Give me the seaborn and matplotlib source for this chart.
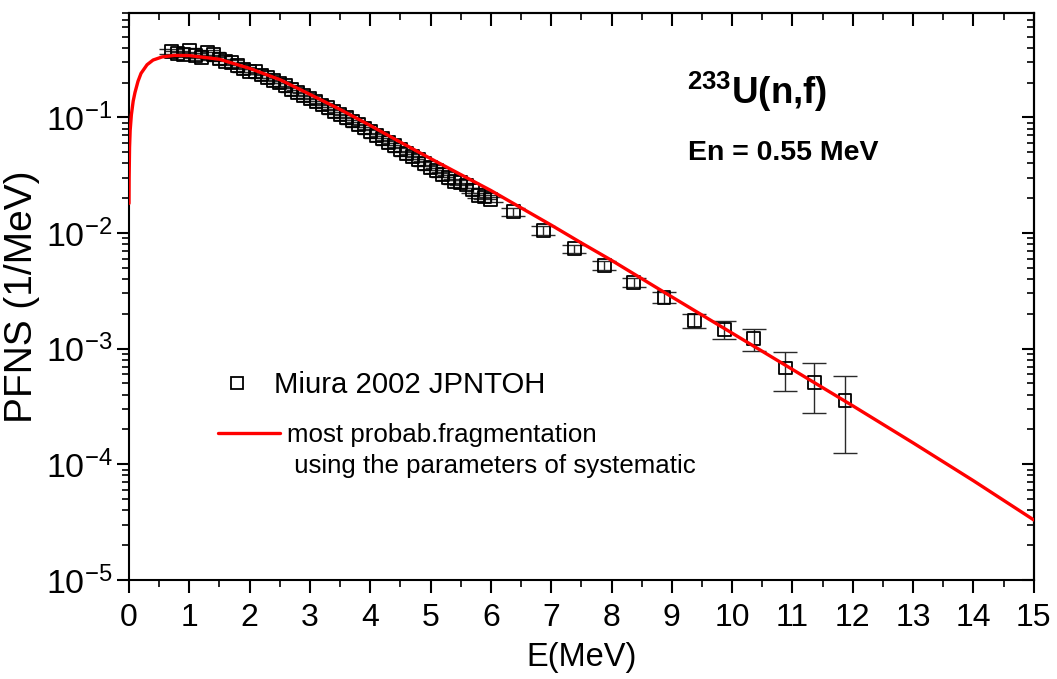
import numpy as np
import pandas as pd
import matplotlib
matplotlib.use('Agg')
import matplotlib.pyplot as plt
import seaborn as sns
from matplotlib import ticker
from matplotlib.lines import Line2D

# model curve: most probable fragmentation
model_e = [0.001, 0.003, 0.01, 0.02, 0.04, 0.07, 0.1, 0.15, 0.2, 0.3, 0.4, 0.55, 0.75,
           1.0, 1.5, 2.0, 2.5, 3.0, 3.5, 4.0, 4.5, 5.0, 5.5, 6.0, 6.5, 7.0, 7.5, 8.0,
           9.0, 10.0, 11.0, 12.0, 13.0, 14.0, 15.0]
model_pfns = [0.018, 0.030, 0.055, 0.077, 0.105, 0.138, 0.164, 0.205, 0.240, 0.285, 0.313, 0.333, 0.343,
              0.342, 0.318, 0.265, 0.212, 0.158, 0.117, 0.085, 0.061, 0.044, 0.032, 0.0233, 0.0165, 0.0117, 0.0082, 0.0058,
              0.0028, 0.00136, 0.00066, 0.00032, 0.000153, 0.000072, 0.000033]

# Miura 2002 JPNTOH data points
miura_e = [0.7, 0.8, 0.9, 1.0, 1.1, 1.2, 1.3, 1.4, 1.5, 1.6, 1.7, 1.8, 1.9, 2.0,
           2.1, 2.2, 2.3, 2.4, 2.5, 2.6, 2.7, 2.8, 2.9, 3.0, 3.1, 3.2, 3.3, 3.4,
           3.5, 3.6, 3.7, 3.8, 3.9, 4.0, 4.1, 4.2, 4.3, 4.4, 4.5, 4.6, 4.7, 4.8,
           4.9, 5.0, 5.1, 5.2, 5.3, 5.4, 5.5, 5.6, 5.7, 5.8, 5.9, 6.0,
           6.37, 6.87, 7.38, 7.88, 8.37, 8.87, 9.37, 9.87, 10.36, 10.88, 11.36, 11.87]
miura_pfns = [0.370, 0.355, 0.350, 0.380, 0.340, 0.330, 0.365, 0.350, 0.320, 0.305, 0.300, 0.280, 0.262, 0.250,
              0.250, 0.232, 0.220, 0.208, 0.198, 0.188, 0.175, 0.165, 0.155, 0.146, 0.137, 0.128, 0.121, 0.113,
              0.106, 0.099, 0.093, 0.087, 0.081, 0.076, 0.070, 0.066, 0.061, 0.057, 0.053, 0.049, 0.046, 0.043,
              0.040, 0.037, 0.0345, 0.032, 0.030, 0.028, 0.0275, 0.026, 0.0235, 0.021, 0.0205, 0.0195,
              0.0153, 0.0105, 0.0073, 0.00524, 0.00373, 0.00277, 0.00175, 0.00146, 0.00122, 0.00068, 0.00051, 0.000355]
miura_err = [0.018, 0.018, 0.017, 0.019, 0.017, 0.016, 0.018, 0.017, 0.016, 0.015, 0.015, 0.014, 0.013, 0.012,
             0.012, 0.011, 0.011, 0.010, 0.010, 0.009, 0.009, 0.008, 0.008, 0.007, 0.007, 0.006, 0.006, 0.006,
             0.005, 0.005, 0.005, 0.0045, 0.004, 0.004, 0.0035, 0.0033, 0.003, 0.0029, 0.0027, 0.0025, 0.0023, 0.0022,
             0.002, 0.0019, 0.0017, 0.0016, 0.0015, 0.0014, 0.0014, 0.0013, 0.0012, 0.0011, 0.001, 0.001,
             0.0013, 0.0009, 0.00055, 0.00045, 0.00035, 0.0003, 0.00025, 0.00026, 0.00027, 0.00025, 0.000235, 0.00023]

model_df = pd.DataFrame({'E': model_e, 'PFNS': model_pfns})
miura_df = pd.DataFrame({'E': miura_e, 'PFNS': miura_pfns, 'err': miura_err})

sns.set_style('ticks')
plt.rcParams['font.family'] = ['Liberation Sans', 'DejaVu Sans']
plt.rcParams['mathtext.default'] = 'regular'
plt.rcParams['axes.linewidth'] = 1.5
for key in ['text.color', 'axes.labelcolor', 'xtick.color', 'ytick.color', 'axes.edgecolor']:
    plt.rcParams[key] = 'black'

fig = plt.figure(figsize=(10.57, 6.79), dpi=100)
ax = fig.add_axes([0.122, 0.146, 0.856, 0.835])

# error bars and open squares for the data
ax.errorbar(miura_df['E'], miura_df['PFNS'], yerr=miura_df['err'], fmt='none',
            ecolor='#2a2a2a', elinewidth=1.0, capsize=8.5, capthick=1.0, zorder=2)
sns.scatterplot(data=miura_df, x='E', y='PFNS', marker='s', s=85, facecolor='none',
                edgecolor='black', linewidth=1.3, ax=ax, zorder=3, legend=False)
# model curve on top
sns.lineplot(data=model_df, x='E', y='PFNS', color='red', lw=2.4, ax=ax,
             sort=False, estimator=None, zorder=4, legend=False)

ax.set_yscale('log')
ax.set_xlim(0, 15)
ax.set_ylim(1e-5, 0.8)
ax.xaxis.set_major_locator(ticker.MultipleLocator(1))
ax.xaxis.set_minor_locator(ticker.MultipleLocator(0.5))
ax.yaxis.set_major_locator(ticker.LogLocator(base=10, numticks=10))
ax.yaxis.set_minor_locator(ticker.LogLocator(base=10, subs=np.arange(2, 10), numticks=20))
ax.yaxis.set_minor_formatter(ticker.NullFormatter())

ax.tick_params(axis='both', which='major', direction='out', length=9, width=1.5)
ax.tick_params(axis='both', which='minor', direction='out', length=5, width=1.2)
ax.tick_params(axis='x', which='major', pad=8, labelsize=23)
ax.tick_params(axis='y', which='major', labelsize=24.5, pad=3)

# mirrored top and right axes with inward ticks
secx = ax.secondary_xaxis('top')
secx.xaxis.set_major_locator(ticker.MultipleLocator(1))
secx.xaxis.set_minor_locator(ticker.MultipleLocator(0.5))
secx.tick_params(which='major', direction='in', length=9, width=1.5, labeltop=False)
secx.tick_params(which='minor', direction='in', length=5, width=1.2)
secy = ax.secondary_yaxis('right')
secy.yaxis.set_major_locator(ticker.LogLocator(base=10, numticks=10))
secy.yaxis.set_minor_locator(ticker.LogLocator(base=10, subs=np.arange(2, 10), numticks=20))
secy.tick_params(which='major', direction='in', length=9, width=1.5, labelright=False)
secy.tick_params(which='minor', direction='in', length=5, width=1.2, labelright=False)
secy.yaxis.set_minor_formatter(ticker.NullFormatter())

ax.set_xlabel('E(MeV)', fontsize=23.5, labelpad=6)
ax.set_ylabel('PFNS (1/MeV)', fontsize=28, labelpad=4)

# annotations
ax.text(0.617, 0.86, r'$^{233}$U(n,f)', transform=ax.transAxes, fontsize=26.5,
        fontweight='bold', ha='left', va='center')
ax.text(0.618, 0.753, 'En = 0.55 MeV', transform=ax.transAxes, fontsize=20.5,
        fontweight='bold', ha='left', va='center')

# legends
h1 = Line2D([], [], ls='none', marker='s', markersize=9, mfc='none', mec='black', mew=1.3)
leg1 = ax.legend([h1], ['Miura 2002 JPNTOH'], loc='center left', bbox_to_anchor=(0.103, 0.344),
                 frameon=False, fontsize=21.2, handlelength=1.0, handletextpad=0.75,
                 borderpad=0, borderaxespad=0)
ax.add_artist(leg1)
h2 = Line2D([], [], color='red', lw=2.4)
h3 = Line2D([], [], color='none')
ax.legend([h2, h3], ['most probab.fragmentation', ' using the parameters of systematic'],
          loc='upper left', bbox_to_anchor=(0.098, 0.276), frameon=False, fontsize=18.6,
          handlelength=2.4, handletextpad=0.3, labelspacing=0.25,
          borderpad=0, borderaxespad=0)

plt.savefig('out.png', dpi=100)
